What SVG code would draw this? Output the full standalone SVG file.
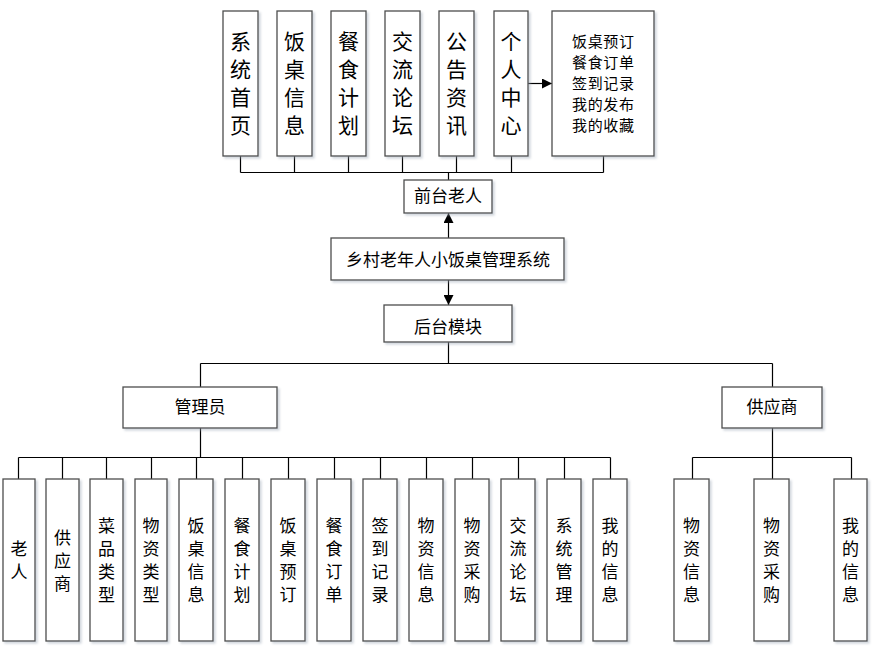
<svg xmlns="http://www.w3.org/2000/svg" width="880" height="653" viewBox="0 0 880 653">
<style>
.box{fill:#fff;stroke:#4d4d4d;stroke-width:1.3;filter:url(#sh)}
.ln{fill:none;stroke:#000;stroke-width:1.2}
text{font-family:"Noto Sans CJK SC","Liberation Sans",sans-serif;fill:#000;text-anchor:middle}
.t1{font-size:21px}
.t2{font-size:15px;letter-spacing:0.6px}
.t3{font-size:17px}
</style>
<defs>
<filter id="sh" x="-20%" y="-20%" width="150%" height="150%">
<feDropShadow dx="2" dy="2" stdDeviation="1.2" flood-color="#9aa6b4" flood-opacity="0.45"/>
</filter>
<marker id="ah" viewBox="0 0 10 10" refX="10" refY="5" markerWidth="10" markerHeight="10" markerUnits="userSpaceOnUse" orient="auto">
<path d="M0,0 L10,5 L0,10 z" fill="#000"/>
</marker>
</defs>

<g id="connectors">
<path class="ln" d="M240.5,156 V172.5 M294.5,156 V172.5 M348.5,156 V172.5 M402.5,156 V172.5 M456.5,156 V172.5 M511.5,156 V172.5 M603.5,156 V172.5 M240.5,172.5 H603.5 M448.5,172.5 V180"/>
<line class="ln" x1="528" y1="83.5" x2="552" y2="83.5" marker-end="url(#ah)"/>
<line class="ln" x1="448.5" y1="238" x2="448.5" y2="213" marker-end="url(#ah)"/>
<line class="ln" x1="448.5" y1="280" x2="448.5" y2="305" marker-end="url(#ah)"/>
<path class="ln" d="M448.5,342 V363.5 M200.5,363.5 H772.5 M200.5,363.5 V387 M772.5,363.5 V387"/>
<path class="ln" d="M200.5,428 V457.5 M18.5,457.5 H610.5 M18.5,457.5 V479 M62.5,457.5 V479 M106.5,457.5 V479 M151.5,457.5 V479 M196.5,457.5 V479 M242.5,457.5 V479 M288.5,457.5 V479 M334.5,457.5 V479 M380.5,457.5 V479 M426.5,457.5 V479 M472.5,457.5 V479 M518.5,457.5 V479 M564.5,457.5 V479 M610.5,457.5 V479"/>
<path class="ln" d="M772.5,428 V479 M692.5,457.5 H851.5 M692.5,457.5 V479 M851.5,457.5 V479"/>
</g>

<g id="n-xtsy"><rect class="box" x="223" y="11" width="35" height="145"/><text class="t1"><tspan x="240.5" y="49">系</tspan><tspan x="240.5" y="77">统</tspan><tspan x="240.5" y="105">首</tspan><tspan x="240.5" y="133">页</tspan></text></g>
<g id="n-fzxx"><rect class="box" x="277" y="11" width="35" height="145"/><text class="t1"><tspan x="294.5" y="49">饭</tspan><tspan x="294.5" y="77">桌</tspan><tspan x="294.5" y="105">信</tspan><tspan x="294.5" y="133">息</tspan></text></g>
<g id="n-csjh"><rect class="box" x="331" y="11" width="35" height="145"/><text class="t1"><tspan x="348.5" y="49">餐</tspan><tspan x="348.5" y="77">食</tspan><tspan x="348.5" y="105">计</tspan><tspan x="348.5" y="133">划</tspan></text></g>
<g id="n-jllt"><rect class="box" x="385" y="11" width="35" height="145"/><text class="t1"><tspan x="402.5" y="49">交</tspan><tspan x="402.5" y="77">流</tspan><tspan x="402.5" y="105">论</tspan><tspan x="402.5" y="133">坛</tspan></text></g>
<g id="n-ggzx"><rect class="box" x="439" y="11" width="35" height="145"/><text class="t1"><tspan x="456.5" y="49">公</tspan><tspan x="456.5" y="77">告</tspan><tspan x="456.5" y="105">资</tspan><tspan x="456.5" y="133">讯</tspan></text></g>
<g id="n-grzx"><rect class="box" x="494" y="11" width="34" height="145"/><text class="t1"><tspan x="511" y="49">个</tspan><tspan x="511" y="77">人</tspan><tspan x="511" y="105">中</tspan><tspan x="511" y="133">心</tspan></text></g>
<g id="n-grlist"><rect class="box" x="552" y="11" width="102" height="145"/><text class="t2"><tspan x="603.3" y="46.5">饭桌预订</tspan><tspan x="603.3" y="67.5">餐食订单</tspan><tspan x="603.3" y="88.5">签到记录</tspan><tspan x="603.3" y="109.5">我的发布</tspan><tspan x="603.3" y="130.5">我的收藏</tspan></text></g>

<g id="n-qtlr"><rect class="box" x="404" y="180" width="88" height="33"/><text class="t3" x="448" y="202">前台老人</text></g>
<g id="n-root"><rect class="box" x="331" y="238" width="233" height="42"/><text class="t3" x="448" y="266">乡村老年人小饭桌管理系统</text></g>
<g id="n-htmk"><rect class="box" x="384" y="305" width="128" height="37"/><text class="t3" x="448" y="333">后台模块</text></g>
<g id="n-gly"><rect class="box" x="123" y="387" width="154" height="41"/><text class="t3" x="200" y="413">管理员</text></g>
<g id="n-gys"><rect class="box" x="722" y="387" width="100" height="41"/><text class="t3" x="772" y="413">供应商</text></g>

<g id="n-a1"><rect class="box" x="3" y="479" width="32" height="162"/><text class="t3"><tspan x="19" y="555">老</tspan><tspan x="19" y="578">人</tspan></text></g>
<g id="n-a2"><rect class="box" x="46" y="479" width="33" height="162"/><text class="t3"><tspan x="62.5" y="543.5">供</tspan><tspan x="62.5" y="566.5">应</tspan><tspan x="62.5" y="589.5">商</tspan></text></g>
<g id="n-a3"><rect class="box" x="90" y="479" width="33" height="162"/><text class="t3"><tspan x="106.5" y="532">菜</tspan><tspan x="106.5" y="555">品</tspan><tspan x="106.5" y="578">类</tspan><tspan x="106.5" y="601">型</tspan></text></g>
<g id="n-a4"><rect class="box" x="135" y="479" width="32" height="162"/><text class="t3"><tspan x="151" y="532">物</tspan><tspan x="151" y="555">资</tspan><tspan x="151" y="578">类</tspan><tspan x="151" y="601">型</tspan></text></g>
<g id="n-a5"><rect class="box" x="179" y="479" width="34" height="162"/><text class="t3"><tspan x="196" y="532">饭</tspan><tspan x="196" y="555">桌</tspan><tspan x="196" y="578">信</tspan><tspan x="196" y="601">息</tspan></text></g>
<g id="n-a6"><rect class="box" x="225" y="479" width="34" height="162"/><text class="t3"><tspan x="242" y="532">餐</tspan><tspan x="242" y="555">食</tspan><tspan x="242" y="578">计</tspan><tspan x="242" y="601">划</tspan></text></g>
<g id="n-a7"><rect class="box" x="271" y="479" width="34" height="162"/><text class="t3"><tspan x="288" y="532">饭</tspan><tspan x="288" y="555">桌</tspan><tspan x="288" y="578">预</tspan><tspan x="288" y="601">订</tspan></text></g>
<g id="n-a8"><rect class="box" x="317" y="479" width="34" height="162"/><text class="t3"><tspan x="334" y="532">餐</tspan><tspan x="334" y="555">食</tspan><tspan x="334" y="578">订</tspan><tspan x="334" y="601">单</tspan></text></g>
<g id="n-a9"><rect class="box" x="363" y="479" width="34" height="162"/><text class="t3"><tspan x="380" y="532">签</tspan><tspan x="380" y="555">到</tspan><tspan x="380" y="578">记</tspan><tspan x="380" y="601">录</tspan></text></g>
<g id="n-a10"><rect class="box" x="409" y="479" width="34" height="162"/><text class="t3"><tspan x="426" y="532">物</tspan><tspan x="426" y="555">资</tspan><tspan x="426" y="578">信</tspan><tspan x="426" y="601">息</tspan></text></g>
<g id="n-a11"><rect class="box" x="455" y="479" width="34" height="162"/><text class="t3"><tspan x="472" y="532">物</tspan><tspan x="472" y="555">资</tspan><tspan x="472" y="578">采</tspan><tspan x="472" y="601">购</tspan></text></g>
<g id="n-a12"><rect class="box" x="501" y="479" width="34" height="162"/><text class="t3"><tspan x="518" y="532">交</tspan><tspan x="518" y="555">流</tspan><tspan x="518" y="578">论</tspan><tspan x="518" y="601">坛</tspan></text></g>
<g id="n-a13"><rect class="box" x="547" y="479" width="34" height="162"/><text class="t3"><tspan x="564" y="532">系</tspan><tspan x="564" y="555">统</tspan><tspan x="564" y="578">管</tspan><tspan x="564" y="601">理</tspan></text></g>
<g id="n-a14"><rect class="box" x="593" y="479" width="34" height="162"/><text class="t3"><tspan x="610" y="532">我</tspan><tspan x="610" y="555">的</tspan><tspan x="610" y="578">信</tspan><tspan x="610" y="601">息</tspan></text></g>

<g id="n-s1"><rect class="box" x="674" y="479" width="35" height="162"/><text class="t3"><tspan x="691.5" y="532">物</tspan><tspan x="691.5" y="555">资</tspan><tspan x="691.5" y="578">信</tspan><tspan x="691.5" y="601">息</tspan></text></g>
<g id="n-s2"><rect class="box" x="754" y="479" width="35" height="162"/><text class="t3"><tspan x="771.5" y="532">物</tspan><tspan x="771.5" y="555">资</tspan><tspan x="771.5" y="578">采</tspan><tspan x="771.5" y="601">购</tspan></text></g>
<g id="n-s3"><rect class="box" x="834" y="479" width="33" height="162"/><text class="t3"><tspan x="850.5" y="532">我</tspan><tspan x="850.5" y="555">的</tspan><tspan x="850.5" y="578">信</tspan><tspan x="850.5" y="601">息</tspan></text></g>
</svg>
